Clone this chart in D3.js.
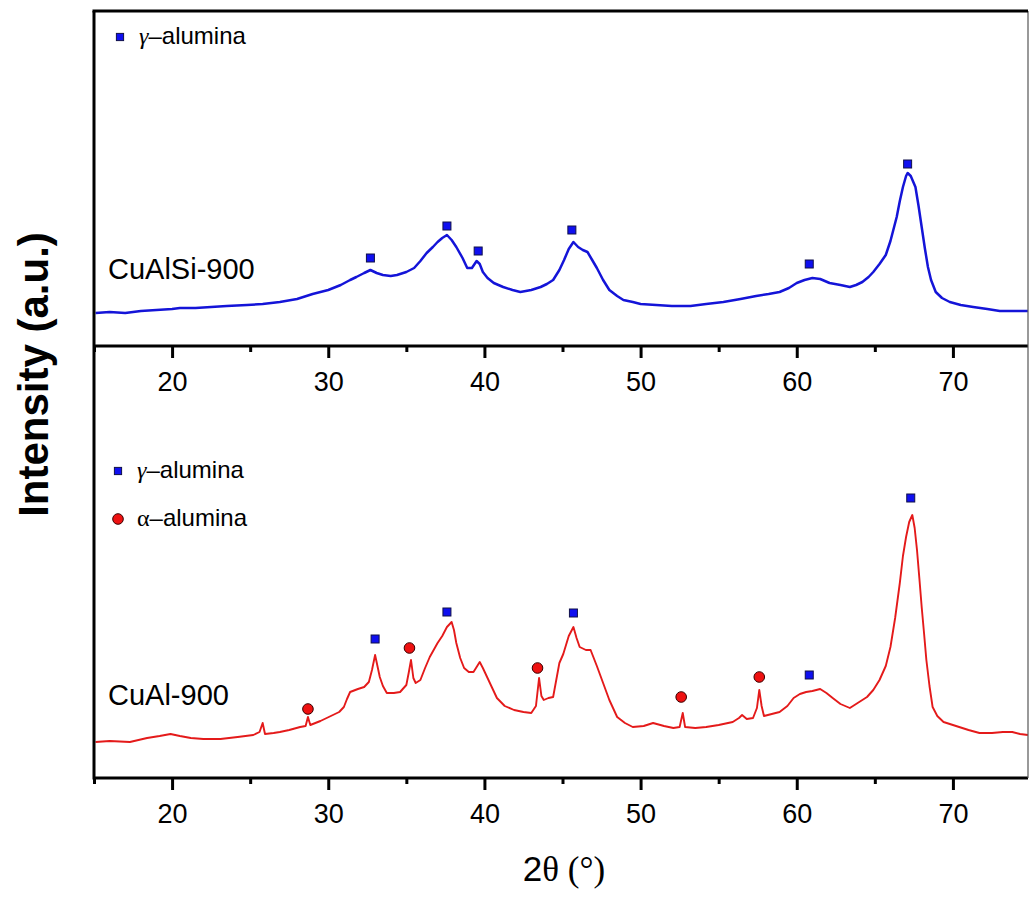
<!DOCTYPE html>
<html>
<head>
<meta charset="utf-8">
<script src="https://cdn.jsdelivr.net/npm/d3@7"></script>
<style>
  body { margin: 0; background: #fff; }
  svg { display: block; }
</style>
</head>
<body>
<svg id="chart"></svg>
<script>
// CuAlSi-900 pattern (2θ in degrees, intensity in a.u.)
const cualsiTheta = [15.1, 16, 17, 18, 19, 20, 20.5, 21.5, 22.5, 23.5, 24.8, 25.8, 26.9, 28, 29, 30, 30.8, 31.4, 31.8, 32.3,
  32.7, 33.1, 33.5, 34, 34.4, 35, 35.5, 35.9, 36.3, 36.7, 37, 37.3, 37.6, 37.9, 38.2, 38.6, 38.9, 39.2, 39.5, 39.7,
  39.9, 40.2, 40.6, 41.2, 41.8, 42.3, 43, 43.6, 44, 44.4, 44.8, 45.1, 45.4, 45.7, 46, 46.3, 46.6, 46.9, 47.2, 47.6,
  48, 48.5, 48.9, 49.5, 50, 51, 52, 53.2, 54.2, 55.3, 56.4, 57.4, 58.2, 58.9, 59.5, 60, 60.5, 61, 61.5, 62.1,
  62.8, 63.4, 63.8, 64.2, 64.6, 64.9, 65.3, 65.7, 66, 66.4, 66.6, 66.8, 67, 67.1, 67.3, 67.6, 67.8, 68, 68.2, 68.4,
  68.6, 68.9, 69.3, 69.8, 70.5, 71.3, 72.2, 73, 74, 74.8];
const cualsiCounts = [33, 34, 33, 35, 36, 37, 38, 38, 39, 40, 41, 42, 44, 47, 52, 56, 61, 66, 69, 73,
  76, 73, 71, 70, 71, 74, 78, 85, 93, 99, 104, 108, 111, 106, 99, 88, 78, 78, 85, 82,
  74, 68, 63, 59, 56, 54, 56, 59, 62, 66, 76, 86, 97, 104, 99, 96, 94, 86, 78, 66,
  56, 50, 46, 44, 42, 41, 40, 40, 42, 44, 47, 50, 52, 54, 58, 63, 66, 68, 67, 63,
  61, 59, 61, 64, 69, 74, 82, 91, 105, 129, 145, 159, 170, 173, 170, 159, 140, 119, 98, 79,
  66, 54, 48, 44, 41, 39, 37, 35, 35, 35];

// CuAl-900 pattern
const cualTheta = [15.1, 16, 17.3, 18.4, 19.2, 19.9, 20.5, 21.2, 22, 23.1, 24.2, 25.2, 25.6, 25.8, 25.95, 26.5, 26.9, 27.5, 28.2, 28.55,
  28.7, 28.85, 29.5, 30.3, 30.7, 31, 31.2, 31.4, 31.9, 32.3, 32.6, 32.8, 33, 33.15, 33.3, 33.5, 33.75, 34.2, 34.6, 35,
  35.15, 35.3, 35.45, 35.6, 35.9, 36.2, 36.5, 37, 37.3, 37.6, 37.9, 38.05, 38.2, 38.45, 38.7, 39, 39.3, 39.5, 39.7, 39.9,
  40.2, 40.5, 40.8, 41.3, 41.9, 42.5, 43, 43.3, 43.5, 43.65, 43.8, 44.1, 44.4, 44.8, 45.05, 45.4, 45.7, 45.9, 46.1, 46.5,
  46.8, 47.2, 47.6, 48, 48.5, 49, 49.5, 50.2, 50.8, 51.5, 52.1, 52.5, 52.7, 52.85, 53.5, 54.2, 55, 55.9, 56.3, 56.5,
  56.8, 57.2, 57.45, 57.6, 57.75, 57.9, 58.4, 58.9, 59.4, 59.8, 60.2, 60.6, 61, 61.5, 61.9, 62.3, 62.8, 63.4, 63.9, 64.5,
  64.9, 65.3, 65.7, 66, 66.3, 66.6, 66.8, 67, 67.2, 67.4, 67.55, 67.7, 67.85, 68, 68.15, 68.3, 68.5, 68.7, 69, 69.4,
  70, 70.4, 71, 71.7, 72.5, 73.2, 73.8, 74.3, 74.8];
const cualCounts = [36, 37, 36, 40, 42, 44, 42, 40, 39, 39, 41, 43, 46, 55, 44, 45, 46, 48, 51, 52,
  61, 53, 57, 63, 66, 71, 79, 86, 89, 91, 96, 108, 123, 112, 101, 92, 85, 85, 86, 93,
  105, 118, 100, 95, 98, 110, 121, 135, 142, 151, 156, 148, 135, 120, 110, 106, 106, 111, 116, 110,
  100, 90, 80, 72, 68, 66, 65, 72, 100, 82, 78, 80, 81, 115, 124, 142, 151, 140, 131, 128,
  128, 112, 95, 78, 61, 55, 51, 52, 55, 52, 50, 51, 65, 51, 50, 51, 53, 56, 60, 63,
  59, 60, 70, 88, 72, 62, 64, 66, 72, 80, 84, 86, 87, 89, 85, 80, 74, 70, 75, 81,
  88, 98, 112, 131, 160, 195, 222, 241, 256, 263, 250, 228, 200, 171, 145, 118, 92, 71, 62, 56,
  53, 51, 48, 45, 45, 46, 46, 44, 43];

// phase markers (2θ, marker height in a.u.)
const gammaTopTheta = [32.7, 37.6, 39.6, 45.6, 60.8, 67.1];
const gammaTopLevel = [88, 120, 95, 116, 82, 182];
const gammaBotTheta = [33.0, 37.6, 45.7, 60.8, 67.3];
const gammaBotLevel = [139, 166, 165, 103, 280];
const alphaBotTheta = [28.7, 35.2, 43.4, 52.6, 57.6];
const alphaBotLevel = [69, 130, 110, 81, 101];

const majorTicks = [20, 30, 40, 50, 60, 70];
const minorTicks = [15, 25, 35, 45, 55, 65];

const width = 1029;
const height = 898;
const sans = '"Liberation Sans", Arial, sans-serif';
const serif = '"Liberation Serif", "Times New Roman", serif';
const blue = '#1414d8';
const red = '#e41a1a';

const svg = d3.select('#chart')
  .attr('width', width)
  .attr('height', height);

const x = d3.scaleLinear().domain([15, 75]).range([94, 1031]);
const rightEdge = 1028;

const panels = [
  {
    name: 'CuAlSi-900', color: blue, theta: cualsiTheta, counts: cualsiCounts,
    y: d3.scaleLinear().domain([0, 335]).range([346, 11]),
    labelY: 279,
    squares: { theta: gammaTopTheta, level: gammaTopLevel },
    circles: null,
  },
  {
    name: 'CuAl-900', color: red, theta: cualTheta, counts: cualCounts,
    y: d3.scaleLinear().domain([0, 432]).range([778, 346]),
    labelY: 705,
    squares: { theta: gammaBotTheta, level: gammaBotLevel },
    circles: { theta: alphaBotTheta, level: alphaBotLevel },
  },
];

panels.forEach((p, i) => {
  const [y0, y1] = p.y.range();
  const g = svg.append('g');

  svg.append('clipPath').attr('id', `clip${i}`)
    .append('rect')
    .attr('x', x(15)).attr('y', y1)
    .attr('width', rightEdge - x(15)).attr('height', y0 - y1);

  const line = d3.line()
    .x((d) => x(d[0]))
    .y((d) => p.y(d[1]));

  g.append('path')
    .datum(d3.zip(p.theta, p.counts))
    .attr('clip-path', `url(#clip${i})`)
    .attr('d', line)
    .attr('fill', 'none')
    .attr('stroke', p.color)
    .attr('stroke-width', i === 0 ? 2.5 : 1.9)
    .attr('stroke-linejoin', 'round');

  // gamma markers
  g.selectAll('rect.gamma')
    .data(d3.zip(p.squares.theta, p.squares.level))
    .enter().append('rect')
    .attr('class', 'gamma')
    .attr('x', (d) => x(d[0]) - 4)
    .attr('y', (d) => p.y(d[1]) - 4)
    .attr('width', 8)
    .attr('height', 8)
    .attr('fill', '#0f0ff0')
    .attr('stroke', '#10104a')
    .attr('stroke-width', 1);

  if (p.circles) {
    g.selectAll('circle.alpha')
      .data(d3.zip(p.circles.theta, p.circles.level))
      .enter().append('circle')
      .attr('class', 'alpha')
      .attr('cx', (d) => x(d[0]))
      .attr('cy', (d) => p.y(d[1]))
      .attr('r', 5.3)
      .attr('fill', '#ee1111')
      .attr('stroke', '#3a0000')
      .attr('stroke-width', 1);
  }

  g.append('text')
    .attr('x', 108)
    .attr('y', p.labelY)
    .attr('font-family', sans)
    .attr('font-size', 29)
    .attr('fill', '#000')
    .text(p.name);

  // bottom axis of the panel
  const major = d3.axisBottom(x).tickValues(majorTicks).tickSize(12).tickSizeOuter(0).tickPadding(14);
  const minor = d3.axisBottom(x).tickValues(minorTicks).tickSize(6).tickSizeOuter(0).tickFormat('');

  const ax = svg.append('g').attr('transform', `translate(0,${y0})`).call(major);
  const axm = svg.append('g').attr('transform', `translate(0,${y0})`).call(minor);
  [ax, axm].forEach((a) => {
    a.select('.domain').remove();
    a.selectAll('.tick line').attr('stroke', '#000').attr('stroke-width', 3);
  });
  ax.selectAll('.tick text')
    .attr('font-family', sans)
    .attr('font-size', 27)
    .attr('fill', '#000');

  svg.append('line')
    .attr('x1', x(15)).attr('x2', rightEdge)
    .attr('y1', y0).attr('y2', y0)
    .attr('stroke', '#000').attr('stroke-width', 3);

  // thin right border
  svg.append('line')
    .attr('x1', rightEdge).attr('x2', rightEdge)
    .attr('y1', y1).attr('y2', y0)
    .attr('stroke', '#555').attr('stroke-width', 1.2);
});

// frame: top line and shared left axis
const yTop = panels[0].y;
const yBot = panels[1].y;
svg.append('line')
  .attr('x1', x(15) - 1.5).attr('x2', rightEdge)
  .attr('y1', yTop.range()[1]).attr('y2', yTop.range()[1])
  .attr('stroke', '#000').attr('stroke-width', 3);
svg.append('line')
  .attr('x1', x(15)).attr('x2', x(15))
  .attr('y1', yTop.range()[1]).attr('y2', yBot.range()[0] + 1.5)
  .attr('stroke', '#000').attr('stroke-width', 3);

// legends
const legend = (g, cx, cy, shape, letter) => {
  if (shape === 'square') {
    g.append('rect')
      .attr('x', cx - 3.6).attr('y', cy - 3.6)
      .attr('width', 7.2).attr('height', 7.2)
      .attr('fill', '#0f0ff0').attr('stroke', '#10104a').attr('stroke-width', 1);
  } else {
    g.append('circle')
      .attr('cx', cx).attr('cy', cy).attr('r', 5.3)
      .attr('fill', '#ee1111').attr('stroke', '#3a0000').attr('stroke-width', 1);
  }
  const t = g.append('text')
    .attr('x', cx + 19)
    .attr('y', cy + 6.5)
    .attr('font-size', 24)
    .attr('fill', '#000');
  t.append('tspan').attr('font-family', serif).attr('font-style', letter === 'γ' ? 'italic' : 'normal').text(letter);
  t.append('tspan').attr('font-family', sans).text('\u2013alumina');
};

legend(svg.append('g'), 120, 37, 'square', 'γ');
legend(svg.append('g'), 118, 471, 'square', 'γ');
legend(svg.append('g'), 118, 519, 'circle', 'α');

// axis titles
const xTitle = svg.append('text')
  .attr('x', (x(15) + rightEdge) / 2 + 3)
  .attr('y', 881)
  .attr('text-anchor', 'middle')
  .attr('font-size', 35)
  .attr('fill', '#000');
xTitle.append('tspan').attr('font-family', sans).text('2');
xTitle.append('tspan').attr('font-family', serif).text('θ (°)');

svg.append('text')
  .attr('transform', `translate(48,${(yTop.range()[1] + yBot.range()[0]) / 2 - 20}) rotate(-90)`)
  .attr('text-anchor', 'middle')
  .attr('font-family', sans)
  .attr('font-weight', 'bold')
  .attr('font-size', 42)
  .attr('fill', '#000')
  .text('Intensity (a.u.)');
</script>
</body>
</html>
